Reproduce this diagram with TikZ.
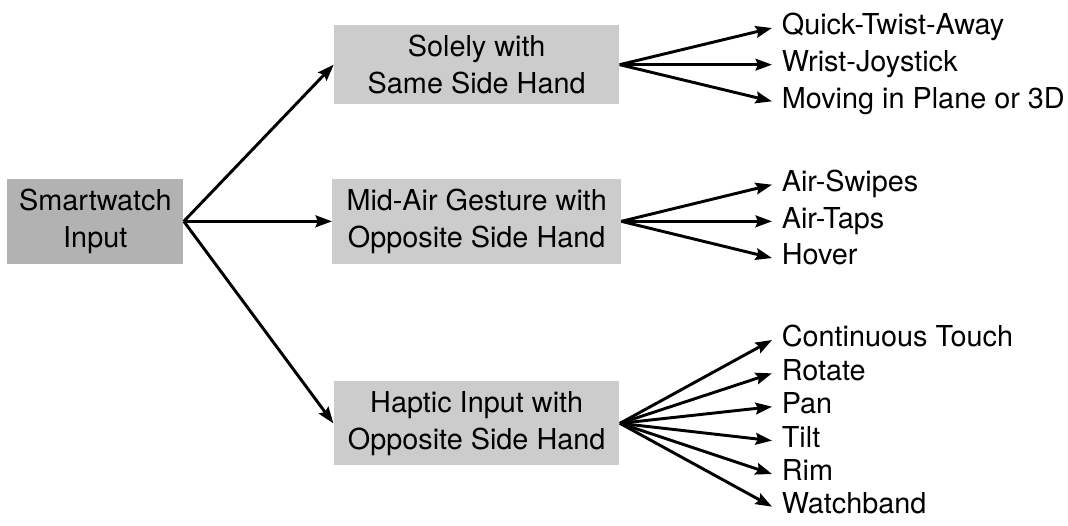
\documentclass[tikz,border=0pt]{standalone}
\usepackage{fontspec}
\setmainfont{TeX Gyre Heros}
\usetikzlibrary{arrows.meta}
\usetikzlibrary{positioning}
\tikzset{root/.style = {fill=black!30, align=center,
                        inner xsep=5pt, inner ysep=4.2pt},
         branch/.style = {fill=black!20, align=center, minimum width=4.275cm,
                          inner xsep=6pt, inner ysep=4.2pt},
         leaf/.style = {anchor=west, inner sep=4pt,
                        text height=0.72em, text depth=0.13em},
         link/.style = {line width=1.25pt,
                        -{Stealth[length=7pt, width=5pt, inset=1pt]}}}

\begin{document}
\begin{tikzpicture}[font=\fontsize{12.3}{15.8}\selectfont]
    \useasboundingbox (0, 0) rectangle (16.02, -7.875);

    \node [root] (input) at (1.43, -3.32) {Smartwatch\\Input};

    \node [branch] (same)   at (7.15, -0.97) {Solely with\\Same Side Hand};
    \node [branch] (air)    at (7.15, -3.32) {Mid-Air Gesture with\\Opposite Side Hand};
    \node [branch] (haptic) at (7.15, -6.35) {Haptic Input with\\Opposite Side Hand};

    \foreach \b in {same, air, haptic} {
      \draw [link] (input.east) -- (\b.west);
    }

    \foreach \n/\y/\t in {quick/-0.42/Quick-Twist-Away, wrist/-0.97/Wrist-Joystick,
                          moving/-1.52/Moving in Plane or 3D} {
      \node [leaf] (\n) at (11.58, \y) {\t};
      \draw [link] (same.east) -- (\n.west);
    }
    \foreach \n/\y/\t in {swipes/-2.77/Air-Swipes, taps/-3.32/Air-Taps,
                          hover/-3.87/Hover} {
      \node [leaf] (\n) at (11.58, \y) {\t};
      \draw [link] (air.east) -- (\n.west);
    }
    \foreach \n/\y/\t in {touch/-5.10/Continuous Touch, rotate/-5.60/Rotate,
                          pan/-6.10/Pan, tilt/-6.61/Tilt, rim/-7.11/Rim,
                          band/-7.60/Watchband} {
      \node [leaf] (\n) at (11.58, \y) {\t};
      \draw [link] (haptic.east) -- (\n.west);
    }
  \end{tikzpicture}
\end{document}
